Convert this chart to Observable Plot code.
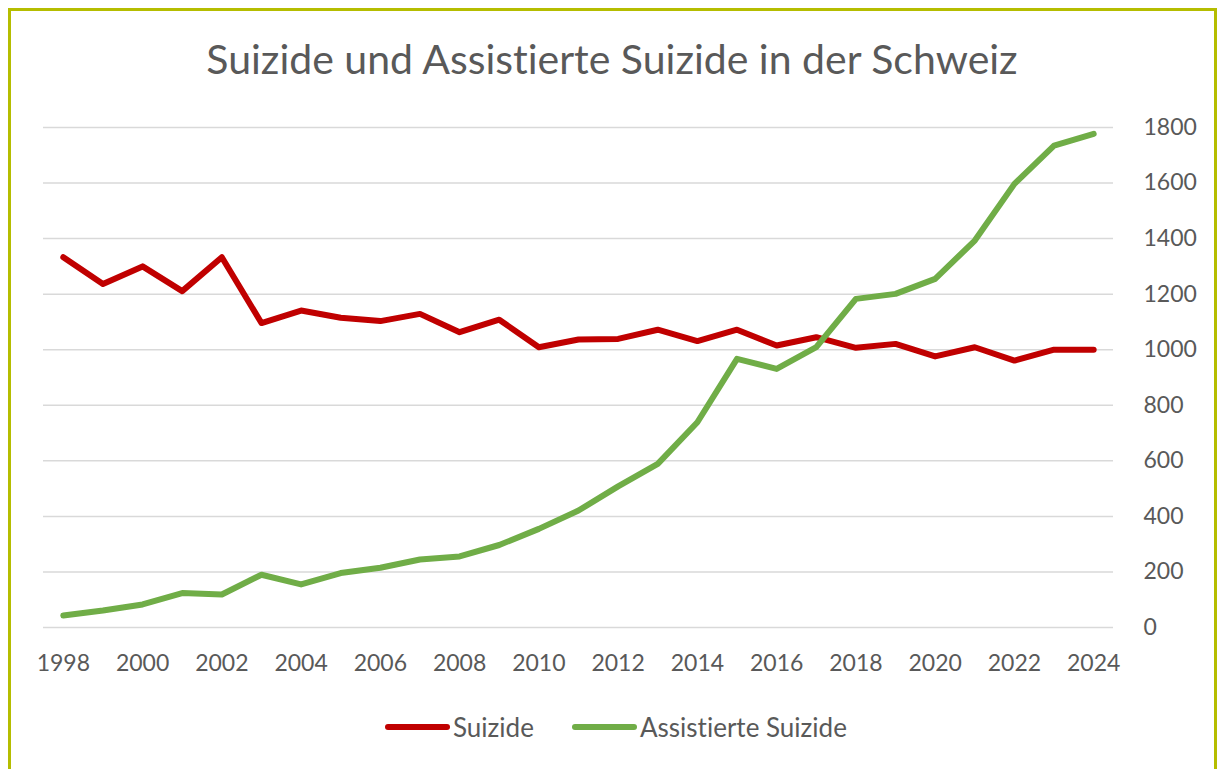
<!DOCTYPE html>
<html>
<head>
<meta charset="utf-8">
<script src="https://cdn.jsdelivr.net/npm/d3@7"></script>
<script src="https://cdn.jsdelivr.net/npm/@observablehq/plot@0.6"></script>
<style>
  html, body { margin: 0; padding: 0; background: #fff; width: 1224px; height: 769px; overflow: hidden; font-variant-ligatures: none; }
  #frame { position: absolute; left: 8px; top: 8px; width: 1203px; height: 780px; border: 3px solid #b5bd00; box-sizing: content-box; }
  #title { position: absolute; left: 0; top: 34px; width: 1224px; text-align: center; font-family: Lato, "Open Sans", sans-serif; font-size: 41px; color: #595959; line-height: 1.2; font-variant-ligatures: none; }
  #chart { position: absolute; left: 0; top: 100px; }
  #chart text { font-variant-ligatures: none; }
  #legend { position: absolute; top: 711px; left: 0; width: 1224px; font-family: Lato, "Open Sans", sans-serif; font-size: 26px; color: #595959; font-variant-ligatures: none; }
  .item { position: absolute; display: flex; align-items: center; }
  .swatch { width: 65px; height: 6px; border-radius: 3px; margin-right: 3px; }
</style>
</head>
<body>
<div id="frame"></div>
<div id="title">Suizide und Assistierte Suizide in der Schweiz</div>
<div id="chart"></div>
<div id="legend"></div>
<script>
const years = [1998,1999,2000,2001,2002,2003,2004,2005,2006,2007,2008,2009,2010,2011,2012,2013,2014,2015,2016,2017,2018,2019,2020,2021,2022,2023,2024];
const suizide = [1333,1237,1300,1211,1333,1096,1141,1115,1103,1129,1063,1108,1009,1037,1039,1072,1031,1072,1015,1045,1007,1021,976,1009,961,1000,1000];
const assistiert = [43,61,83,124,119,190,155,196,215,245,256,297,355,421,508,589,739,967,931,1009,1183,1201,1255,1393,1597,1735,1777];
const yTicks = [0,200,400,600,800,1000,1200,1400,1600,1800];
const xTicks = [1998,2000,2002,2004,2006,2008,2010,2012,2014,2016,2018,2020,2022,2024];
const seriesNames = ["Suizide", "Assistierte Suizide"];
const seriesColors = ["#c00000", "#70ad47"];

const rows = [];
years.forEach((yr, i) => {
  rows.push({year: yr, value: suizide[i], series: seriesNames[0]});
  rows.push({year: yr, value: assistiert[i], series: seriesNames[1]});
});

const plot = Plot.plot({
  width: 1224,
  height: 600,
  marginLeft: 43,
  marginRight: 111,
  marginTop: 27,
  marginBottom: 73,
  style: { fontFamily: "Lato, 'Open Sans', sans-serif", fontSize: "23px", color: "#595959", background: "transparent" },
  x: { domain: [1997.5, 2024.5], ticks: xTicks, tickFormat: "d", tickSize: 0, tickPadding: 27, label: null },
  y: { domain: [0, 1800], ticks: yTicks, tickFormat: "d", tickSize: 0, tickPadding: 30, label: null },
  color: { domain: seriesNames, range: seriesColors },
  marks: [
    Plot.gridY(yTicks, { stroke: "#d9d9d9", strokeOpacity: 1, strokeWidth: 1.5 }),
    Plot.axisX({ ticks: xTicks, tickFormat: "d", tickSize: 0, tickPadding: 27, label: null, fill: "#595959" }),
    Plot.axisY({ anchor: "right", ticks: yTicks, tickFormat: "d", tickSize: 0, tickPadding: 30, label: null, fill: "#595959" }),
    Plot.line(rows, { x: "year", y: "value", z: "series", stroke: "series", strokeWidth: 6, strokeLinejoin: "round", strokeLinecap: "round" })
  ]
});
document.getElementById("chart").appendChild(plot);

const legend = document.getElementById("legend");
const legendX = [385, 572];
seriesNames.forEach((name, i) => {
  const item = document.createElement("div");
  item.className = "item";
  item.style.left = legendX[i] + "px";
  const sw = document.createElement("div");
  sw.className = "swatch";
  sw.style.background = seriesColors[i];
  const t = document.createElement("span");
  t.textContent = name;
  item.appendChild(sw);
  item.appendChild(t);
  legend.appendChild(item);
});
</script>
</body>
</html>
